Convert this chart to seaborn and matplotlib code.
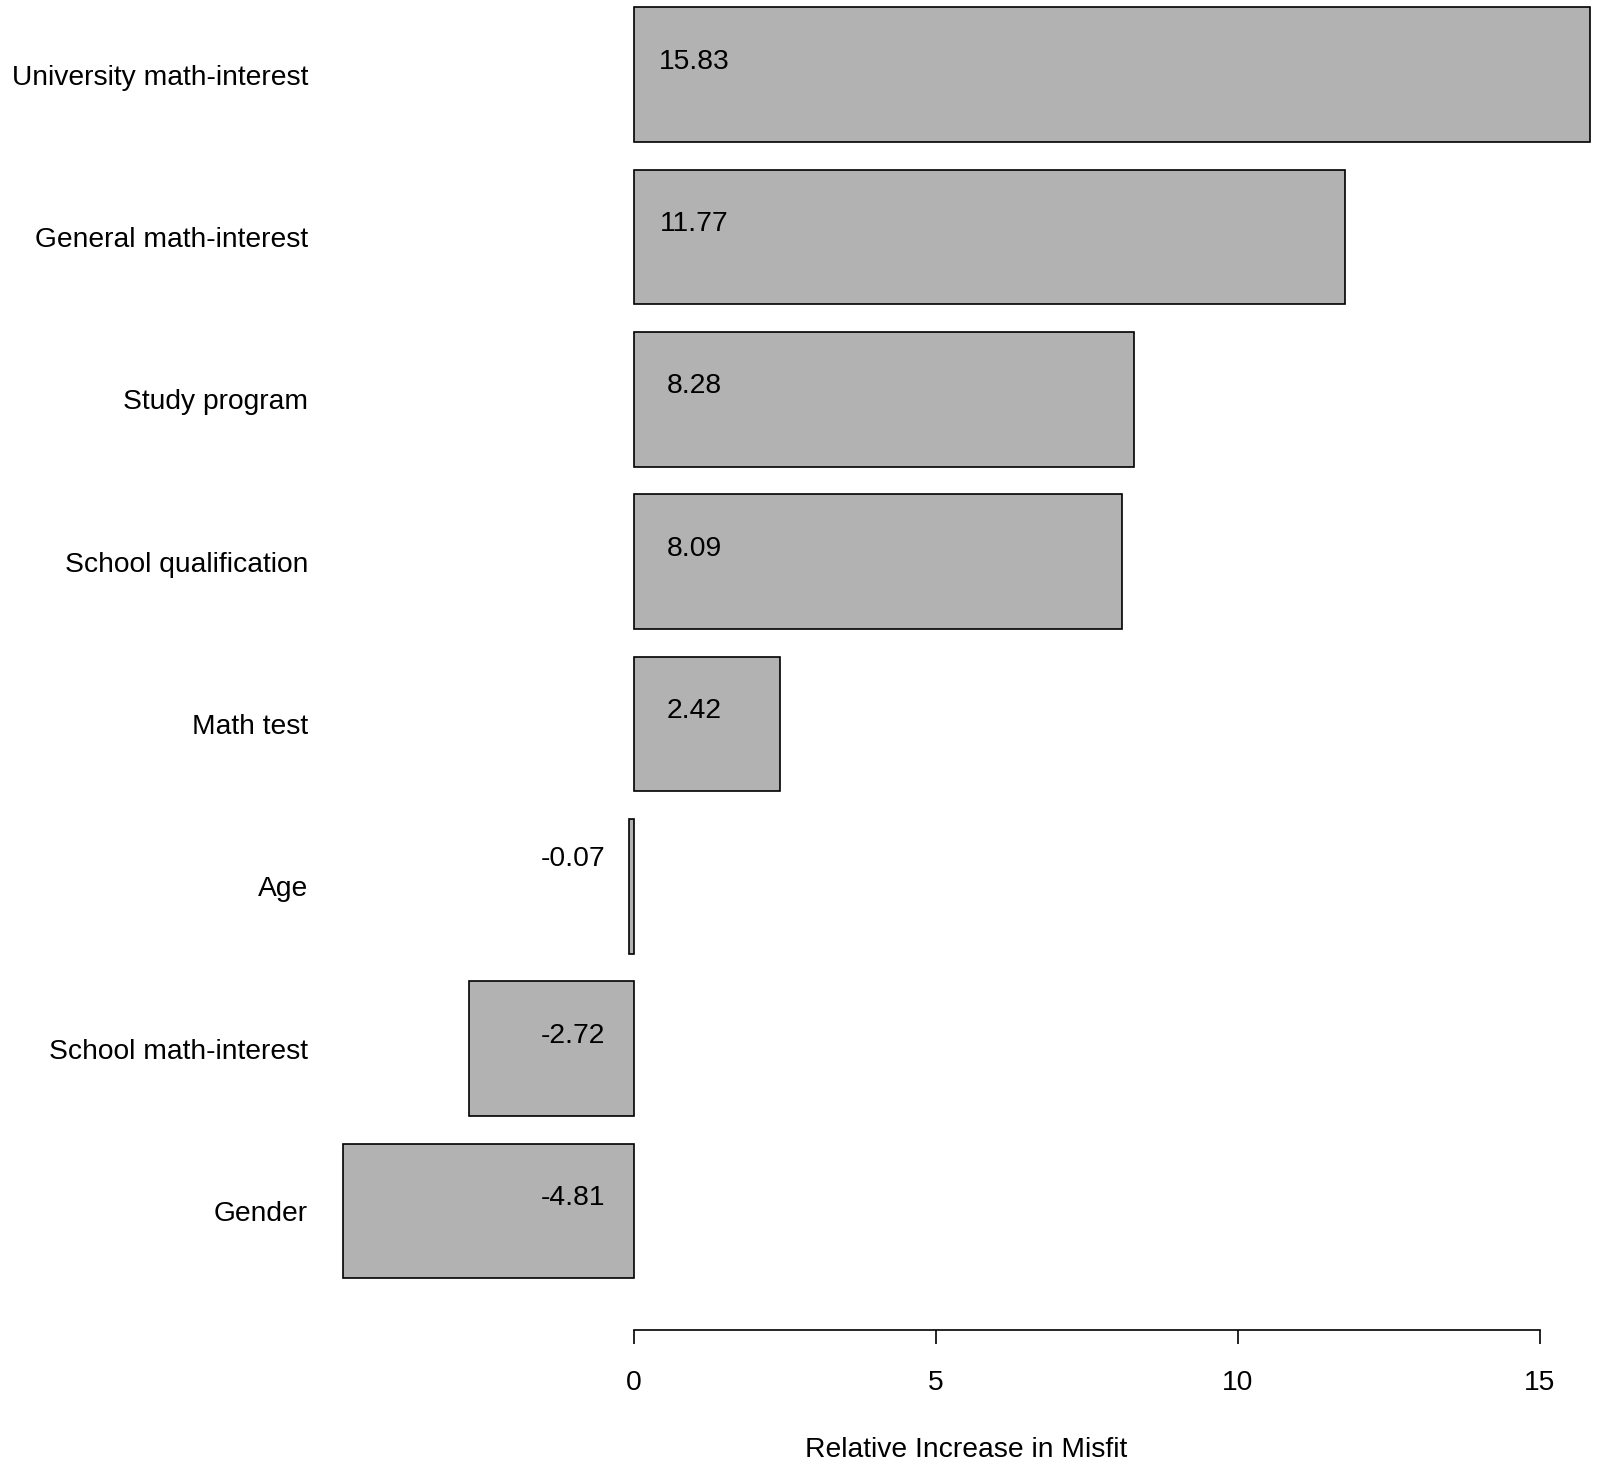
import matplotlib
matplotlib.use("Agg")
import matplotlib.pyplot as plt
import seaborn as sns
import pandas as pd

# Predictor importance values
predictors = ["University math-interest", "General math-interest", "Study program",
              "School qualification", "Math test", "Age",
              "School math-interest", "Gender"]
misfit = [15.83, 11.77, 8.28, 8.09, 2.42, -0.07, -2.72, -4.81]
x_ticks = [0, 5, 10, 15]

sns.set_style("white")
plt.rcParams['font.family'] = ['Liberation Sans', 'DejaVu Sans']
plt.rcParams['text.color'] = 'black'
plt.rcParams['axes.labelcolor'] = 'black'
plt.rcParams['xtick.color'] = 'black'
plt.rcParams['ytick.color'] = 'black'

df = pd.DataFrame({"predictor": predictors, "misfit": misfit})

fig = plt.figure(figsize=(16, 14.7), dpi=100)
ax = fig.add_axes([0.2073, 0.0955, 0.7927, 0.9045])

sns.barplot(data=df, x="misfit", y="predictor", orient="h", color="#B2B2B2",
            saturation=1, edgecolor="black", linewidth=1.2, width=0.83, ax=ax)

# value labels near the zero line (tiny bars get theirs lifted a bit)
for i, v in enumerate(df["misfit"]):
    dy = 0.17 if abs(v) < 0.5 else 0.08
    ax.text(1 if v >= 0 else -1, i - dy, f"{v:.2f}", ha="center", va="center",
            fontsize=20.3, color="black")

ax.set_xlim(-5, 16)
ax.set_ylim(7.73, -0.459)

for s in ["top", "right", "left"]:
    ax.spines[s].set_visible(False)
ax.spines["bottom"].set_bounds(0, 15)
ax.spines["bottom"].set_linewidth(1.2)
ax.spines["bottom"].set_color("black")
ax.set_xticks(x_ticks)
ax.set_xticklabels([str(t) for t in x_ticks])
ax.tick_params(axis="x", direction="out", length=10.3, width=1.2, pad=19,
               labelsize=20.3, bottom=True)
ax.tick_params(axis="y", length=0, pad=17, labelsize=20.3)
ax.set_ylabel("")
ax.set_xlabel("Relative Increase in Misfit", fontsize=20.3, labelpad=29)

fig.savefig("out.png", dpi=100)
